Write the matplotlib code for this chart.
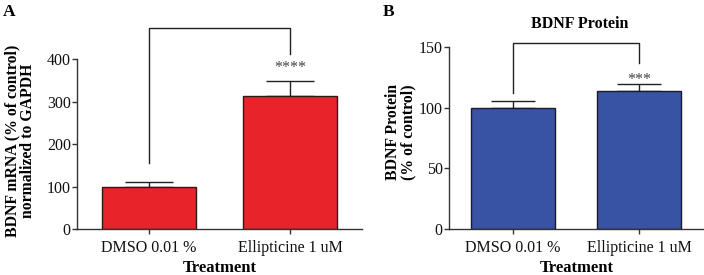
import matplotlib
matplotlib.use("Agg")
import matplotlib.pyplot as plt

plt.rcParams['font.family'] = ['Liberation Serif', 'DejaVu Serif']

categories = ["DMSO 0.01 %", "Ellipticine 1 uM"]
mrna_values = [100, 314]
mrna_errors = [11, 36]
protein_values = [100, 113.7]
protein_errors = [5.7, 5.8]
mrna_yticks = [0, 100, 200, 300, 400]
protein_yticks = [0, 50, 100, 150]

W, H = 704, 275
fig = plt.figure(figsize=(W / 100, H / 100), dpi=100)

def px_axes(left, right, top, bottom):
    return fig.add_axes([left / W, 1 - bottom / H, (right - left) / W, (bottom - top) / H])

axis_col = '#333333'

def style(ax):
    for s in ['top', 'right']:
        ax.spines[s].set_visible(False)
    for s in ['left', 'bottom']:
        ax.spines[s].set_color(axis_col)
        ax.spines[s].set_linewidth(1.0)
    ax.tick_params(axis='y', direction='out', length=3.5, width=1.0, color=axis_col,
                   labelsize=11.5, pad=1.0, labelcolor='#111111')
    ax.tick_params(axis='x', direction='out', length=3.5, width=1.0, color=axis_col,
                   labelsize=11.5, pad=4.5, labelcolor='#111111')

# Panel A
axA = px_axes(77, 362, 59.3, 229)
x = [0, 1]
axA.bar(x, mrna_values, width=0.667, color='#E8232A', edgecolor='#2a1a1a', linewidth=1.0, zorder=2)
axA.errorbar(x, mrna_values, yerr=[[0, 0], mrna_errors], fmt='none', ecolor='#222222',
             elinewidth=1.0, capsize=17, capthick=1.0, zorder=1)
axA.set_xlim(-0.51, 1.51)
axA.set_ylim(0, 400)
axA.set_yticks(mrna_yticks)
axA.set_xticks(x)
axA.set_xticklabels(categories)
style(axA)
axA.plot([0, 0, 1, 1], [155, 474, 474, 412], color='#222222', lw=1.0, clip_on=False)
axA.text(1, 380, '****', ha='center', va='center', fontsize=11.5, color='#444444')
axA.set_xlabel('Treatment', fontsize=12, fontweight='bold', labelpad=2.5)

# Panel B
axB = px_axes(449, 704, 47.3, 229)
axB.bar(x, protein_values, width=0.667, color='#3953A4', edgecolor='#1a1a2a', linewidth=1.0, zorder=2)
axB.errorbar(x, protein_values, yerr=[[0, 0], protein_errors], fmt='none', ecolor='#222222',
             elinewidth=1.0, capsize=15.5, capthick=1.0, zorder=1)
axB.set_xlim(-0.508, 1.516)
axB.set_ylim(0, 150)
axB.set_yticks(protein_yticks)
axB.set_xticks(x)
axB.set_xticklabels(categories)
style(axB)
axB.plot([0, 0, 1, 1], [112.5, 153.8, 153.8, 137], color='#222222', lw=1.0, clip_on=False)
axB.text(1, 123, '***', ha='center', va='center', fontsize=11.5, color='#444444')
axB.set_xlabel('Treatment', fontsize=12, fontweight='bold', labelpad=2.5)

fig.text(20 / W, 1 - 141 / H, 'BDNF mRNA (% of control)\nnormalized to GAPDH', rotation=90,
         ha='center', va='center', fontsize=11.3, fontweight='bold', multialignment='center',
         linespacing=0.95)
fig.text(401 / W, 1 - 132 / H, 'BDNF Protein\n(% of control)', rotation=90,
         ha='center', va='center', fontsize=11.3, fontweight='bold', multialignment='center',
         linespacing=0.95)
fig.text(580 / W, 1 - 24 / H, 'BDNF Protein', ha='center', va='center', fontsize=11.5,
         fontweight='bold')
fig.text(9 / W, 1 - 12 / H, 'A', ha='center', va='center', fontsize=12.5, fontweight='bold')
fig.text(389 / W, 1 - 12 / H, 'B', ha='center', va='center', fontsize=12.5, fontweight='bold')

fig.savefig('out.png', dpi=100)
